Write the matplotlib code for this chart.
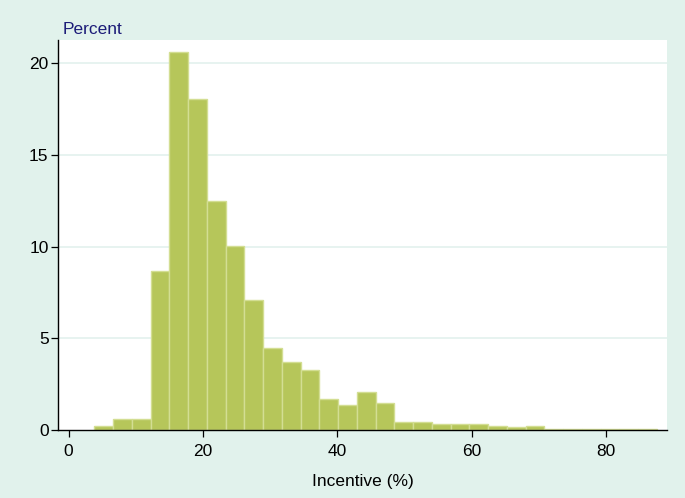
import numpy as np
import matplotlib
matplotlib.use("Agg")
import matplotlib.pyplot as plt

plt.rcParams['font.family'] = ['Liberation Sans', 'DejaVu Sans']

# Data: histogram of incentive (%) - 30 bins
incentive_min = 3.85
incentive_max = 87.55
n_bins = 30
percent = [0.24, 0.60, 0.60, 8.67, 20.64, 18.04, 12.47, 10.06, 7.09, 4.49,
           3.69, 3.27, 1.71, 1.36, 2.06, 1.46, 0.42, 0.42, 0.33, 0.33,
           0.33, 0.24, 0.14, 0.24, 0.04, 0.04, 0.04, 0.04, 0.03, 0.06]
x_ticks = [0, 20, 40, 60, 80]
y_ticks = [0, 5, 10, 15, 20]

edges = np.linspace(incentive_min, incentive_max, n_bins + 1)
widths = np.diff(edges)

bg = '#E1F2EC'
fs = 12.5
fig = plt.figure(figsize=(6.85, 4.98), dpi=100, facecolor=bg)
ax = fig.add_axes([0.0851, 0.1365, 0.9733 - 0.0851, 0.9197 - 0.1365])
ax.set_facecolor('white')

for y in y_ticks[1:]:
    ax.axhline(y, color='#E3F1EE', lw=1.2, zorder=0)

ax.bar(edges[:-1], percent, width=widths, align='edge',
       color='#B6C65A', edgecolor='#D3DE93', linewidth=1.0, zorder=2)

ax.set_xlim(-1.52, 89.0)
ax.set_ylim(0, 21.27)
ax.set_xticks(x_ticks)
ax.set_yticks(y_ticks)
ax.tick_params(axis='both', direction='out', length=5, width=0.9, color='black',
               labelsize=fs, labelcolor='black')
ax.tick_params(axis='y', pad=2)
ax.tick_params(axis='x', pad=5)
for s in ['top', 'right']:
    ax.spines[s].set_visible(False)
for s in ['left', 'bottom']:
    ax.spines[s].set_color('black')
    ax.spines[s].set_linewidth(1.0)

ax.set_xlabel('Incentive (%)', fontsize=fs, color='black', labelpad=11)
fig.text(63 / 685, 1 - 29.5 / 498, 'Percent', fontsize=fs, color='#1C1C78',
         ha='left', va='center')

fig.savefig('out.png', dpi=100, facecolor=bg)
